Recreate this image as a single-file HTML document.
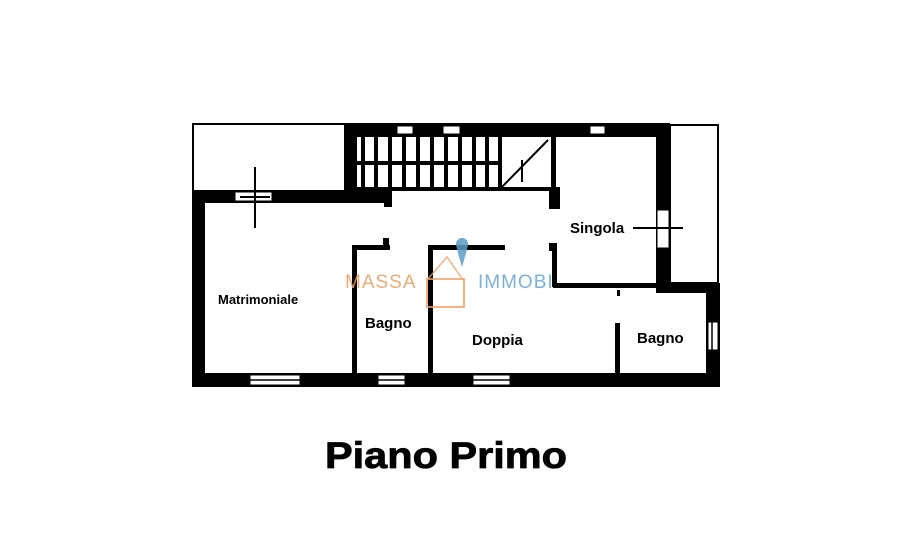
<!DOCTYPE html>
<html><head><meta charset="utf-8"><style>html,body{margin:0;padding:0;background:#fff}svg{display:block}</style></head>
<body>
<svg width="905" height="555" viewBox="0 0 905 555" xmlns="http://www.w3.org/2000/svg" font-family="Liberation Sans, Arial, sans-serif">
<rect width="905" height="555" fill="#fff"/>
<rect x="193" y="124" width="152" height="67" fill="none" stroke="#000" stroke-width="2"/>
<rect x="670" y="125" width="48" height="158" fill="none" stroke="#000" stroke-width="2"/>
<g fill="#000">
<rect x="345" y="123" width="325" height="14"/>
<rect x="345" y="123" width="12" height="68"/>
<rect x="192" y="190" width="200" height="13"/>
<rect x="384" y="190" width="8" height="17"/>
<rect x="192" y="190" width="13" height="197"/>
<rect x="192" y="373" width="528" height="14"/>
<rect x="656" y="123" width="14" height="170"/>
<rect x="706" y="283" width="14" height="104"/>
<rect x="656" y="283" width="64" height="10"/>
<rect x="553" y="283" width="105" height="5"/>
<rect x="552" y="245" width="5" height="42"/>
<rect x="549" y="243" width="8" height="8"/>
<rect x="551" y="137" width="5" height="60"/>
<rect x="549" y="187" width="11" height="22"/>
<rect x="352" y="245" width="5" height="130"/>
<rect x="352" y="245" width="38" height="5"/>
<rect x="383" y="238" width="6" height="10"/>
<rect x="428" y="245" width="5" height="130"/>
<rect x="428" y="245" width="77" height="5"/>
<rect x="615" y="323" width="5" height="52"/>
<rect x="617" y="290" width="3" height="6"/>
</g>
<g fill="#fff" stroke="#000" stroke-width="1">
<rect x="235" y="192" width="37" height="9"/>
<rect x="250" y="375" width="50" height="10"/>
<rect x="378" y="375" width="27" height="10"/>
<rect x="473" y="375" width="37" height="10"/>
<rect x="397" y="126" width="16" height="8"/>
<rect x="443" y="126" width="17" height="8"/>
<rect x="590" y="126" width="15" height="8"/>
<rect x="657" y="210" width="12" height="38"/>
<rect x="708" y="322" width="10" height="28"/>
</g>
<g stroke="#000" stroke-width="1.5">
<line x1="250" y1="380" x2="300" y2="380"/>
<line x1="473" y1="380" x2="510" y2="380"/>
<line x1="378" y1="380" x2="405" y2="380"/>
<line x1="712" y1="322" x2="712" y2="350"/>
</g>
<g stroke="#000" stroke-width="2">
<line x1="255" y1="167" x2="255" y2="228"/>
<line x1="240" y1="197" x2="270" y2="197"/>
<line x1="633" y1="228" x2="683" y2="228"/>
</g>
<g stroke="#000" stroke-width="4">
<line x1="357" y1="163" x2="500" y2="163"/>
<line x1="357" y1="189" x2="551" y2="189"/>
<line x1="363" y1="137" x2="363" y2="189"/>
<line x1="376" y1="137" x2="376" y2="189"/>
<line x1="390" y1="137" x2="390" y2="189"/>
<line x1="404" y1="137" x2="404" y2="189"/>
<line x1="418" y1="137" x2="418" y2="189"/>
<line x1="432" y1="137" x2="432" y2="189"/>
<line x1="446" y1="137" x2="446" y2="189"/>
<line x1="460" y1="137" x2="460" y2="189"/>
<line x1="474" y1="137" x2="474" y2="189"/>
<line x1="487" y1="137" x2="487" y2="189"/>
<line x1="500" y1="137" x2="500" y2="189"/>
<line x1="500" y1="189" x2="548" y2="140" stroke-width="2"/>
<line x1="522" y1="160" x2="522" y2="182" stroke-width="2"/>
</g>
<text x="345" y="288" font-size="19" fill="#e8a36a" letter-spacing="1" opacity="0.9">MASSA</text>
<text x="478" y="288" font-size="19" fill="#6fa8d0" letter-spacing="1" opacity="0.9">IMMOBI</text>
<polyline points="427,280 447,257 463,280" fill="none" stroke="#e8a36a" stroke-width="1.5" opacity="0.8"/>
<rect x="427" y="279" width="37" height="28" fill="none" stroke="#e8a36a" stroke-width="2" opacity="0.8"/>
<path d="M462 238 a6 6 0 0 1 6 7 q-2 9 -6 22 q-4 -13 -6 -22 a6 6 0 0 1 6 -7z" fill="#5b9bc4" opacity="0.85"/>
<g font-weight="bold" fill="#000">
<text x="218" y="304" font-size="13">Matrimoniale</text>
<text x="365" y="328" font-size="15">Bagno</text>
<text x="472" y="345" font-size="15">Doppia</text>
<text x="570" y="233" font-size="15">Singola</text>
<text x="637" y="343" font-size="15">Bagno</text>
<text x="325" y="468" font-size="37" textLength="242" lengthAdjust="spacingAndGlyphs" stroke="#000" stroke-width="0.8">Piano Primo</text>
</g>
</svg>
</body></html>
